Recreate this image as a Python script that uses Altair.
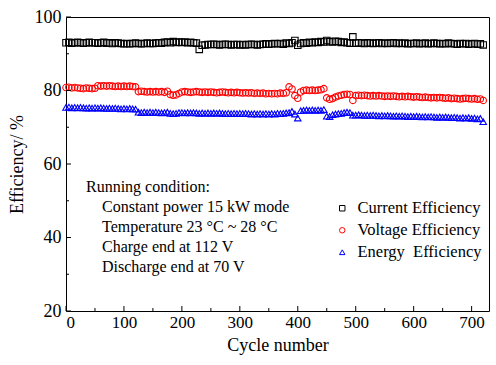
import altair as alt
import pandas as pd

cycles = list(range(0, 721, 5))

current_eff = [
    93.0, 93.1, 92.9, 93.0, 93.1, 93.0, 92.9, 93.0, 93.1, 93.0,
    93.0, 92.9, 93.0, 93.1, 92.9, 93.0, 92.8, 93.0, 92.9, 92.8,
    92.7, 92.8, 92.7, 92.8, 92.9, 92.8, 92.7, 92.8, 92.9, 92.8,
    92.8, 92.9, 93.0, 92.9, 93.1, 93.2, 93.0, 93.3, 93.1, 93.2,
    93.1, 93.2, 93.0, 93.1, 93.0, 92.9, 91.2, 92.3, 92.4, 92.5,
    92.5, 92.6, 92.5, 92.4, 92.5, 92.6, 92.5, 92.4, 92.5, 92.5,
    92.4, 92.5, 92.4, 92.5, 92.6, 92.5, 92.4, 92.5, 92.6, 92.7,
    92.6, 92.7, 92.8, 92.7, 92.8, 92.6, 92.9, 92.8, 93.0, 93.6,
    92.3, 92.8, 93.0, 92.9, 93.1, 93.0, 93.2, 93.1, 93.3, 93.2,
    93.6, 93.3, 93.2, 93.4, 93.3, 93.1, 93.2, 93.0, 92.9, 94.6,
    92.9, 93.0, 92.9, 92.8, 93.0, 92.9, 92.8, 92.9, 93.0, 92.8,
    92.9, 92.8, 92.9, 93.0, 92.8, 92.9, 92.8, 92.9, 92.7, 92.8,
    92.8, 92.9, 92.7, 92.8, 92.9, 92.7, 92.8, 92.9, 92.8, 92.7,
    92.8, 92.7, 92.9, 92.8, 92.7, 92.6, 92.8, 92.7, 92.8, 92.6,
    92.7, 92.8, 92.6, 92.7, 92.4,
]

voltage_eff = [
    80.8, 80.9, 80.7, 80.8, 80.7, 80.6, 80.5, 80.7, 80.6, 80.5,
    80.6, 81.3, 81.2, 81.3, 81.2, 81.3, 81.2, 81.1, 81.2, 81.1,
    81.2, 81.1, 81.2, 81.1, 81.0, 79.7, 79.8, 79.7, 79.6, 79.7,
    79.6, 79.7, 79.6, 79.7, 79.5, 79.8, 78.9, 78.7, 78.8, 79.2,
    79.6, 79.7, 79.6, 79.5, 79.6, 79.7, 79.6, 79.5, 79.6, 79.5,
    79.6, 79.5, 79.4, 79.5, 79.6, 79.5, 79.4, 79.5, 79.4, 79.5,
    79.4, 79.3, 79.4, 79.3, 79.4, 79.2, 79.3, 79.2, 79.3, 79.1,
    79.2, 79.1, 79.2, 79.1, 79.3, 79.2, 79.4, 81.0, 80.4, 78.6,
    77.9, 79.6, 80.0, 80.1, 80.0, 80.1, 80.0, 80.1, 80.2, 80.5,
    78.0, 77.6, 77.8, 78.2, 78.5, 78.7, 78.9, 79.0, 78.9, 77.3,
    78.6, 78.7, 78.6, 78.7, 78.6, 78.5, 78.6, 78.5, 78.6, 78.5,
    78.4, 78.5, 78.4, 78.5, 78.4, 78.3, 78.4, 78.3, 78.4, 78.3,
    78.2, 78.3, 78.2, 78.1, 78.2, 78.1, 78.0, 78.1, 78.0, 78.1,
    78.0, 77.9, 78.0, 77.8, 77.9, 77.8, 77.7, 77.8, 77.9, 77.8,
    77.7, 77.8, 77.6, 77.7, 77.3,
]

energy_eff = [
    75.4, 75.5, 75.3, 75.4, 75.3, 75.4, 75.3, 75.2, 75.3, 75.2,
    75.3, 75.2, 75.3, 75.2, 75.1, 75.2, 75.1, 75.2, 75.1, 75.0,
    75.1, 75.0, 75.1, 75.0, 74.9, 74.1, 74.0, 74.1, 74.0, 74.1,
    74.0, 74.1, 74.0, 73.9, 74.0, 74.1, 73.8, 73.7, 73.8, 74.0,
    74.0, 73.9, 74.0, 73.9, 74.0, 73.9, 73.8, 73.9, 73.8, 73.9,
    73.8, 73.9, 73.8, 73.9, 73.8, 73.7, 73.8, 73.7, 73.8, 73.7,
    73.8, 73.7, 73.8, 73.7, 73.6, 73.7, 73.6, 73.7, 73.6, 73.7,
    73.6, 73.7, 73.6, 73.8, 73.7, 73.8, 73.9, 74.0, 74.3, 73.6,
    72.5, 74.5, 74.6, 74.7, 74.6, 74.7, 74.6, 74.7, 74.6, 74.8,
    73.0, 72.9, 73.4, 73.6, 73.7, 73.8, 74.0, 74.1, 74.0, 73.3,
    73.3, 73.4, 73.3, 73.2, 73.3, 73.2, 73.3, 73.2, 73.1, 73.2,
    73.1, 73.2, 73.1, 73.0, 73.1, 73.0, 73.1, 73.0, 72.9, 73.0,
    72.9, 73.0, 72.9, 72.8, 72.9, 72.8, 72.9, 72.8, 72.7, 72.8,
    72.7, 72.8, 72.7, 72.6, 72.7, 72.6, 72.5, 72.6, 72.5, 72.6,
    72.4, 72.5, 72.3, 72.4, 71.5,
]

series_names = ["Current Efficiency", "Voltage Efficiency", "Energy\u00a0 Efficiency"]
series_colors = ["#000000", "#ff0000", "#0000ff"]
series_shapes = ["square", "circle", "triangle-up"]

x_major = [0, 100, 200, 300, 400, 500, 600, 700]
x_minor = [50, 150, 250, 350, 450, 550, 650]
y_major = [20, 40, 60, 80, 100]
y_minor = [30, 50, 70, 90]

note_title = "Running condition:"
note_lines = [
    "Constant power 15 kW mode",
    "Temperature 23 \u00b0C ~ 28 \u00b0C",
    "Charge end at 112 V",
    "Discharge end at 70 V",
]

rows = []
for name, vals in zip(series_names, [current_eff, voltage_eff, energy_eff]):
    for c, v in zip(cycles, vals):
        rows.append({"cycle": c, "eff": v, "series": name})
df = pd.DataFrame(rows)

FONT = "Liberation Serif"
W, H = 423, 294

xs = alt.Scale(domain=[0, 730], nice=False)
ys = alt.Scale(domain=[20, 100], nice=False)

points = alt.Chart(df).mark_point(filled=False, size=42, strokeWidth=1.1, opacity=1).encode(
    x=alt.X("cycle:Q", scale=xs,
            axis=alt.Axis(title="Cycle number", values=x_major, ticks=False, grid=False,
                          labelPadding=3, titlePadding=6, domain=False,
                          labelFont=FONT, titleFont=FONT, labelFontSize=17, titleFontSize=18,
                          labelColor="black", titleColor="black", titleFontWeight="normal")),
    y=alt.Y("eff:Q", scale=ys,
            axis=alt.Axis(title="Efficiency/ %", values=y_major, ticks=False, grid=False,
                          labelPadding=5, titlePadding=8, domain=False,
                          labelFont=FONT, titleFont=FONT, labelFontSize=18, titleFontSize=18,
                          labelColor="black", titleColor="black", titleFontWeight="normal")),
    color=alt.Color("series:N", sort=series_names,
                    scale=alt.Scale(domain=series_names, range=series_colors),
                    legend=alt.Legend(title=None, orient="none", legendX=268, legendY=183,
                                      labelFont=FONT, labelFontSize=16.5, labelColor="black",
                                      symbolSize=30, symbolStrokeWidth=1, rowPadding=5,
                                      padding=0, labelOffset=7, labelLimit=300)),
    shape=alt.Shape("series:N", sort=series_names,
                    scale=alt.Scale(domain=series_names, range=series_shapes),
                    legend=None),
    order=alt.Order("cycle:Q"),
)

def tick_layer(vals, axis, length):
    d = pd.DataFrame({"v": vals})
    if axis == "x":
        return alt.Chart(d).mark_rule(color="black", strokeWidth=1).encode(
            x=alt.X("v:Q", scale=xs), y=alt.value(H), y2=alt.value(H - length))
    return alt.Chart(d).mark_rule(color="black", strokeWidth=1).encode(
        y=alt.Y("v:Q", scale=ys), x=alt.value(0), x2=alt.value(length))

ticks = [
    tick_layer(x_major, "x", 5), tick_layer(x_minor, "x", 3),
    tick_layer(y_major, "y", 5), tick_layer(y_minor, "y", 3),
]

texts = [alt.Chart(pd.DataFrame({"t": [note_title]})).mark_text(
    align="left", baseline="middle", font=FONT, fontSize=16, color="black").encode(
    text="t:N", x=alt.value(20), y=alt.value(170))]
for i, line in enumerate(note_lines):
    texts.append(alt.Chart(pd.DataFrame({"t": [line]})).mark_text(
        align="left", baseline="middle", font=FONT, fontSize=16, color="black").encode(
        text="t:N", x=alt.value(36), y=alt.value(190 + 20 * i)))

chart = alt.layer(points, *ticks, *texts).properties(
    width=W, height=H,
    autosize=alt.AutoSizeParams(type="none"),
    padding={"left": 66, "top": 17, "right": 7, "bottom": 54},
    background="white",
).configure_view(stroke="black", strokeWidth=1)

chart.save("out.html", embed_options={"renderer": "svg", "actions": False})
